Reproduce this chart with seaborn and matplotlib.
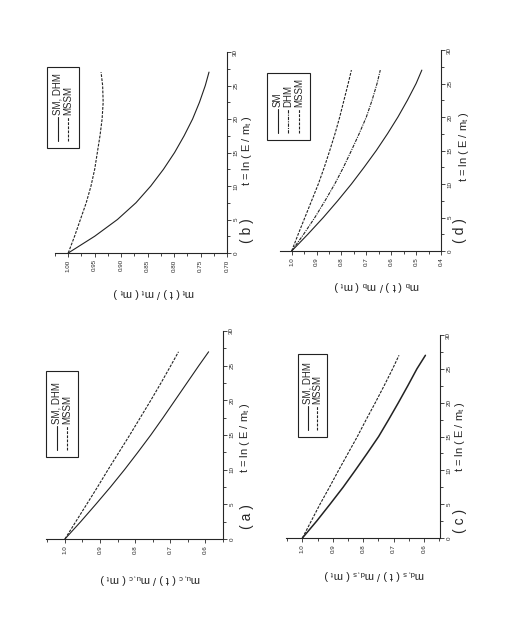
import numpy as np
import matplotlib
matplotlib.use("Agg")
import matplotlib.pyplot as plt
from matplotlib.patches import Rectangle
from matplotlib.ticker import MultipleLocator, FormatStrFormatter
import pandas as pd
import seaborn as sns

# wartosci, t = ln(E/m_t)
t = [0, 2.5, 5, 7.5, 10, 12.5, 15, 17.5, 20, 22.5, 25, 27]

# (a) m_u,c
a_sm = [1.0, 0.955, 0.912, 0.870, 0.830, 0.792, 0.755, 0.720, 0.686, 0.652, 0.618, 0.590]
a_mssm = [1.0, 0.969, 0.938, 0.907, 0.877, 0.846, 0.815, 0.785, 0.755, 0.726, 0.698, 0.676]
# (b) m_t
b_sm = [1.0, 0.950, 0.907, 0.872, 0.844, 0.820, 0.799, 0.781, 0.765, 0.752, 0.741, 0.734]
b_mssm = [1.0, 0.988, 0.977, 0.966, 0.957, 0.950, 0.945, 0.940, 0.936, 0.934, 0.935, 0.938]
# (c) m_d,s
c_sm = [1.0, 0.953, 0.909, 0.866, 0.826, 0.787, 0.749, 0.716, 0.684, 0.653, 0.623, 0.595]
c_mssm = [1.0, 0.971, 0.942, 0.911, 0.881, 0.850, 0.819, 0.790, 0.760, 0.731, 0.703, 0.682]
# (d) m_b
d_sm = [1.0, 0.935, 0.873, 0.815, 0.760, 0.709, 0.660, 0.615, 0.573, 0.535, 0.500, 0.477]
d_dhm = [1.0, 0.952, 0.907, 0.866, 0.827, 0.792, 0.760, 0.729, 0.700, 0.677, 0.657, 0.644]
d_mssm = [1.0, 0.974, 0.947, 0.920, 0.893, 0.869, 0.847, 0.826, 0.807, 0.790, 0.773, 0.760]

sns.set_style("ticks")
plt.rcParams["font.family"] = ["Liberation Sans", "DejaVu Sans"]
plt.rcParams["mathtext.fontset"] = "custom"
plt.rcParams["mathtext.rm"] = "Liberation Sans"
plt.rcParams["mathtext.it"] = "Liberation Sans"
plt.rcParams["mathtext.bf"] = "Liberation Sans:bold"

W, H = 514, 628
fig = plt.figure(figsize=(W / 100, H / 100), dpi=100)
fig.patch.set_facecolor("white")

SOLID = "-"
DASH = (0, (2.5, 1.2))
DASHDOT = (0, (3, 1, 1, 1))


def panel(px, vlim, vstep, fmt, ylab, tag, lab_xy, tlab_xy, tag_xy, leg_box, series, lw=0.8):
    # strona obrocona o 90 stopni: wartosc na osi poziomej, t na pionowej
    x0, y0, x1, y1 = px
    ax = fig.add_axes([x0 / W, 1 - y1 / H, (x1 - x0) / W, (y1 - y0) / H])
    df = pd.DataFrame({"t": t})
    for name, vals, ls in series:
        df[name] = vals
        sns.lineplot(data=df, x=name, y="t", orient="y", ax=ax, color="#222222",
                     linewidth=lw if ls == SOLID else 0.8, linestyle=ls)
    ax.set_xlim(*vlim)
    ax.set_ylim(0, 30)
    ax.xaxis.set_major_locator(MultipleLocator(vstep))
    ax.xaxis.set_minor_locator(MultipleLocator(vstep / 2))
    ax.xaxis.set_major_formatter(FormatStrFormatter(fmt))
    ax.yaxis.set_major_locator(MultipleLocator(5))
    ax.yaxis.set_minor_locator(MultipleLocator(2.5))
    ax.yaxis.tick_right()
    ax.yaxis.set_label_position("right")
    for s in ["top", "left"]:
        ax.spines[s].set_visible(False)
    for s in ["bottom", "right"]:
        ax.spines[s].set_linewidth(0.8)
    ax.tick_params(which="both", direction="out", width=0.6, labelsize=4.5, pad=1.5)
    ax.tick_params(which="major", length=3)
    ax.tick_params(which="minor", length=1.8)
    plt.setp(ax.get_xticklabels(), rotation=90)
    plt.setp(ax.get_yticklabels(), rotation=90, va="center")
    ax.set_xlabel(ylab, fontsize=8, rotation=180, ha="center", va="center")
    ax.xaxis.set_label_coords(*lab_xy)
    ax.set_ylabel(r"t = ln ( E / m$_{\rm t}$ )", fontsize=8, rotation=90, ha="center", va="center")
    ax.yaxis.set_label_coords(*tlab_xy)
    ax.text(tag_xy[0], tag_xy[1], "( %s )" % tag, transform=ax.transAxes, rotation=90,
            fontsize=10, ha="center", va="center")

    # legenda obrocona recznie
    bx0, by0, bx1, by1 = leg_box
    ax.add_patch(Rectangle((bx0, by0), bx1 - bx0, by1 - by0, transform=ax.transAxes,
                           fill=False, lw=0.8, ec="#222222", clip_on=False))
    hpx = y1 - y0
    n = len(series)
    for i, (name, vals, ls) in enumerate(series):
        xx = bx0 + (bx1 - bx0) * (i + 1) / (n + 1)
        ax.plot([xx, xx], [by0 + 7 / hpx, by0 + 31 / hpx], transform=ax.transAxes,
                color="#222222", lw=0.8, linestyle=ls, clip_on=False)
        ax.text(xx, by0 + 33 / hpx, name, transform=ax.transAxes, rotation=90,
                fontsize=7, ha="center", va="bottom")
    return ax


panel((55, 52, 227, 253), (1.025, 0.70), 0.05, "%.2f",
      r"m$_{\rm t}$ ( t ) / m$_{\rm t}$ ( m$_{\rm t}$ )", "b",
      (0.576, -0.2), (1.116, 0.51), (1.118, 0.11), (-0.048, 0.522, 0.14, 0.925),
      [("SM, DHM", b_sm, SOLID), ("MSSM", b_mssm, DASH)])

panel((280, 50, 441, 251), (1.047, 0.40), 0.1, "%.1f",
      r"m$_{\rm b}$ ( t ) / m$_{\rm b}$ ( m$_{\rm t}$ )", "d",
      (0.6, -0.174), (1.143, 0.52), (1.12, 0.104), (-0.081, 0.552, 0.186, 0.886),
      [("SM", d_sm, SOLID), ("DHM", d_dhm, DASHDOT), ("MSSM", d_mssm, DASH)])

panel((46, 331, 223, 539), (1.054, 0.549), 0.1, "%.1f",
      r"m$_{\rm u,c}$ ( t ) / m$_{\rm u,c}$ ( m$_{\rm t}$ )", "a",
      (0.59, -0.19), (1.124, 0.49), (1.135, 0.11), (0.0, 0.394, 0.18, 0.808),
      [("SM, DHM", a_sm, SOLID), ("MSSM", a_mssm, DASH)])

panel((286, 335, 440, 538), (1.054, 0.547), 0.1, "%.1f",
      r"m$_{\rm d,s}$ ( t ) / m$_{\rm d,s}$ ( m$_{\rm t}$ )", "c",
      (0.57, -0.177), (1.13, 0.5), (1.13, 0.084), (0.078, 0.5, 0.266, 0.906),
      [("SM, DHM", c_sm, SOLID), ("MSSM", c_mssm, DASH)], lw=1.1)

fig.savefig("out.png", dpi=100, facecolor="white")
